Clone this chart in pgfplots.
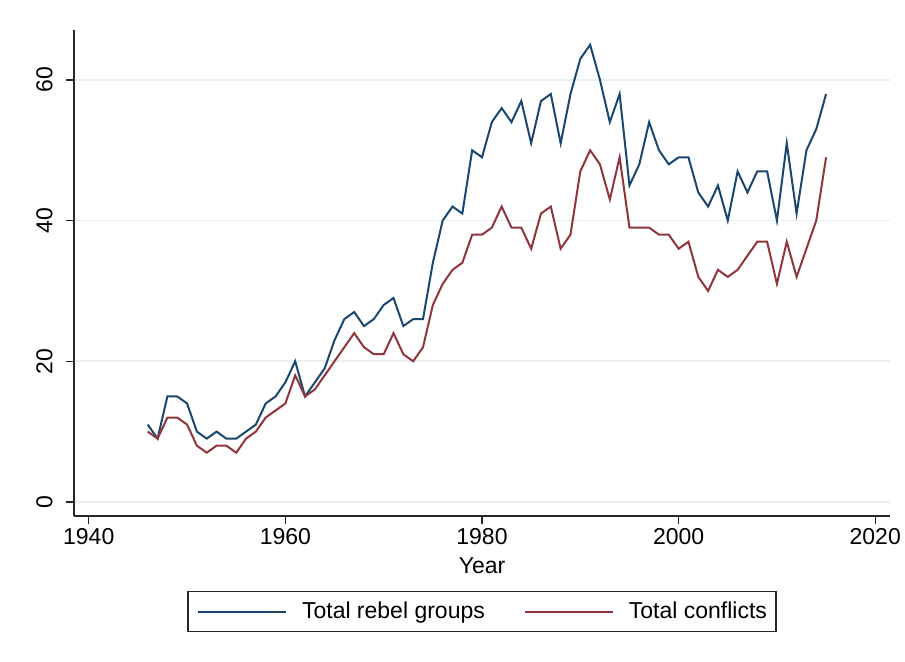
\documentclass[border=0pt]{standalone}
\usepackage{fontspec}
\setmainfont{Liberation Sans}
\usepackage{pgfplots}
\usepackage{pgfplotstable}
\pgfplotsset{compat=1.18}

\definecolor{stblue}{RGB}{26,71,111}
\definecolor{stred}{RGB}{144,53,59}
\definecolor{gridc}{RGB}{232,239,241}

\newcommand{\lblfont}{\fontsize{11.5}{13.8}\selectfont}

% year, total rebel groups, total conflicts
\pgfplotstableread{
year rebel conflicts
1946 11 10
1947 9 9
1948 15 12
1949 15 12
1950 14 11
1951 10 8
1952 9 7
1953 10 8
1954 9 8
1955 9 7
1956 10 9
1957 11 10
1958 14 12
1959 15 13
1960 17 14
1961 20 18
1962 15 15
1963 17 16
1964 19 18
1965 23 20
1966 26 22
1967 27 24
1968 25 22
1969 26 21
1970 28 21
1971 29 24
1972 25 21
1973 26 20
1974 26 22
1975 34 28
1976 40 31
1977 42 33
1978 41 34
1979 50 38
1980 49 38
1981 54 39
1982 56 42
1983 54 39
1984 57 39
1985 51 36
1986 57 41
1987 58 42
1988 51 36
1989 58 38
1990 63 47
1991 65 50
1992 60 48
1993 54 43
1994 58 49
1995 45 39
1996 48 39
1997 54 39
1998 50 38
1999 48 38
2000 49 36
2001 49 37
2002 44 32
2003 42 30
2004 45 33
2005 40 32
2006 47 33
2007 44 35
2008 47 37
2009 47 37
2010 40 31
2011 51 37
2012 41 32
2013 50 36
2014 53 40
2015 58 49
}\datatable

\begin{document}
\begin{tikzpicture}
\path[use as bounding box] (0,0) rectangle (452.5pt,330.5pt);
\begin{axis}[
    at={(37pt,72.5pt)},
    anchor=south west,
    scale only axis,
    width=408pt,
    height=243pt,
    xmin=1938.5, xmax=2021.5,
    ymin=-2, ymax=67.1,
    axis lines*=left,
    axis line style={-, line width=0.7pt, black!85},
    xtick={1940,1960,1980,2000,2020},
    ytick={0,20,40,60},
    tick align=outside,
    major tick length=4pt,
    tick style={line width=0.7pt, black!85},
    ymajorgrids=true,
    grid style={line width=0.8pt, gridc},
    /pgf/number format/assume math mode=true,
    /pgf/number format/1000 sep={},
    tick label style={font=\lblfont, inner sep=0pt},
    xticklabel style={anchor=north, yshift=-2pt},
    yticklabel style={rotate=90, anchor=south},
    yticklabel shift=6.5pt,
    xlabel={Year},
    xlabel style={font=\lblfont, inner sep=0pt, at={(axis description cs:0.5,0)}, anchor=north, yshift=-20.5pt},
    legend columns=2,
    legend style={
        at={(axis description cs:0.5,0)}, anchor=center, yshift=-47.75pt,
        draw=black!85, line width=0.6pt,
        inner xsep=4.5pt, inner ysep=4.9pt,
        font=\lblfont,
        nodes={inner sep=0pt},
        column sep=0pt,
        /tikz/every even column/.append style={column sep=19.5pt},
    },
    legend cell align=left,
    legend image code/.code={
        \draw[#1, line width=1pt] (0pt,0pt) -- (44pt,0pt);
        \path (51.5pt,0pt);
    },
]
\addplot[stblue, line width=1pt] table[x=year, y=rebel] {\datatable};
\addlegendentry{Total rebel groups}
\addplot[stred, line width=1pt] table[x=year, y=conflicts] {\datatable};
\addlegendentry{Total conflicts}
\end{axis}
\end{tikzpicture}
\end{document}
